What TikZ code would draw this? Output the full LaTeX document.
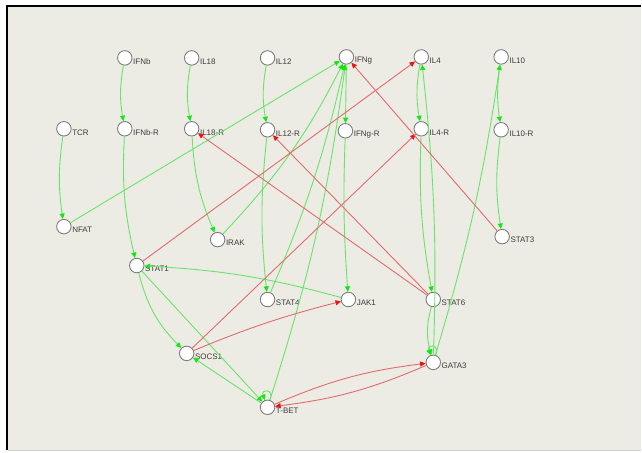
\documentclass[tikz,border=0pt]{standalone}
\usepackage{fontspec}
\setmainfont{Liberation Sans}
\usepackage{tikz}
\usetikzlibrary{arrows.meta}
\definecolor{canvas}{RGB}{236,235,228}
\definecolor{ringgray}{RGB}{125,125,125}
\definecolor{textgray}{RGB}{60,60,60}
\definecolor{actline}{RGB}{105,228,105}
\definecolor{acthead}{RGB}{20,232,20}
\definecolor{inhline}{RGB}{226,108,108}
\definecolor{inhhead}{RGB}{236,20,20}
\newcommand{\gnode}[4]{%
  \node[gene,label={[lbl]right:#4}] (#1) at (#2,#3) {};%
}
\tikzset{
  gene/.style={circle,draw=ringgray,line width=0.9pt,fill=white,minimum size=14.5pt,inner sep=0pt,label distance=2.5pt},
  lbl/.style={font=\fontsize{8}{9}\selectfont,text=textgray,inner sep=0.5pt,yshift=-3.5pt},
  act/.style={draw=actline,line width=0.9pt,-{Triangle[length=5.5pt,width=5pt,color=acthead]}},
  inh/.style={draw=inhline,line width=0.9pt,-{Triangle[length=5.5pt,width=5pt,color=inhhead]}},
  selfloop/.style={act,out=70,in=110,looseness=6}
}
\begin{document}
\begin{tikzpicture}[x=1pt,y=-1pt]
  \fill[white] (0,0) rectangle (642,453);
  \fill[canvas] (7,6) rectangle (642,451);
  \draw[gray!35,line width=1pt] (8,451.5) -- (642,451.5);
  \draw[black,line width=2.2pt] (7,451) -- (7,6) -- (642,6);
  \useasboundingbox (0,0) rectangle (642,453);

  \gnode{ifnb}{125}{58}{IFNb}
  \gnode{il18}{192}{58}{IL18}
  \gnode{il12}{268}{58}{IL12}
  \gnode{ifng}{347}{57}{IFNg}
  \gnode{il4}{422}{57}{IL4}
  \gnode{il10}{502}{57}{IL10}
  \gnode{tcr}{64}{129}{TCR}
  \gnode{ifnbr}{125}{129}{IFNb-R}
  \gnode{il18r}{192}{129}{IL18-R}
  \gnode{il12r}{268}{130}{IL12-R}
  \gnode{ifngr}{346}{131}{IFNg-R}
  \gnode{il4r}{422}{129}{IL4-R}
  \gnode{il10r}{502}{130}{IL10-R}
  \gnode{nfat}{64}{227}{NFAT}
  \gnode{irak}{218}{240}{IRAK}
  \gnode{stat3}{503}{237}{STAT3}
  \gnode{stat1}{137}{266}{STAT1}
  \gnode{stat4}{268}{300}{STAT4}
  \gnode{jak1}{349}{300}{JAK1}
  \gnode{stat6}{434}{300}{STAT6}
  \gnode{socs1}{187}{354}{SOCS1}
  \gnode{gata3}{434}{363}{GATA3}
  \gnode{tbet}{268}{408}{T-BET}

  \draw[act] (ifnb) to[bend right=10] (ifnbr);
  \draw[act] (il18) to[bend right=10] (il18r);
  \draw[act] (il12) to[bend right=10] (il12r);
  \draw[act] (ifng) -- (ifngr);
  \draw[act] (il4) to[bend right=10] (il4r);
  \draw[act] (il10) to[bend right=8] (il10r);
  \draw[act] (tcr) to[bend right=8] (nfat);
  \draw[act] (ifnbr) to[bend right=8] (stat1);
  \draw[act] (il18r) to[bend right=10] (irak);
  \draw[act] (il12r) to[bend right=6] (stat4);
  \draw[act] (ifngr) to[bend right=3] (jak1);
  \draw[act] (il4r) to[bend right=6] (stat6);
  \draw[act] (il10r) to[bend right=8] (stat3);
  \draw[act] (nfat) -- (ifng);
  \draw[act] (irak) to[bend right=8] (ifng);
  \draw[act] (stat4) to[bend right=5] (ifng);
  \draw[act] (tbet) to[bend right=5] (ifng);
  \draw[act] (jak1) to[bend right=6] (stat1);
  \draw[act] (stat1) to[bend right=15] (socs1);
  \draw[act] (stat1) -- (tbet);
  \draw[act] (tbet) -- (socs1);
  \draw[act] (stat6) to[bend right=15] (gata3);
  \draw[act] (gata3) to[bend right=4] (il4);
  \draw[act] (gata3) to[bend right=4] (il10);
  \draw[selfloop] (tbet) to (tbet);
  \draw[selfloop] (gata3) to (gata3);

  \draw[inh] (stat1) -- (il4);
  \draw[inh] (socs1) -- (il4r);
  \draw[inh] (socs1) to[bend left=4] (jak1);
  \draw[inh] (stat6) -- (il18r);
  \draw[inh] (stat6) -- (il12r);
  \draw[inh] (stat3) -- (ifng);
  \draw[inh] (tbet) to[bend left=8] (gata3);
  \draw[inh] (gata3) to[bend left=8] (tbet);
\end{tikzpicture}
\end{document}
